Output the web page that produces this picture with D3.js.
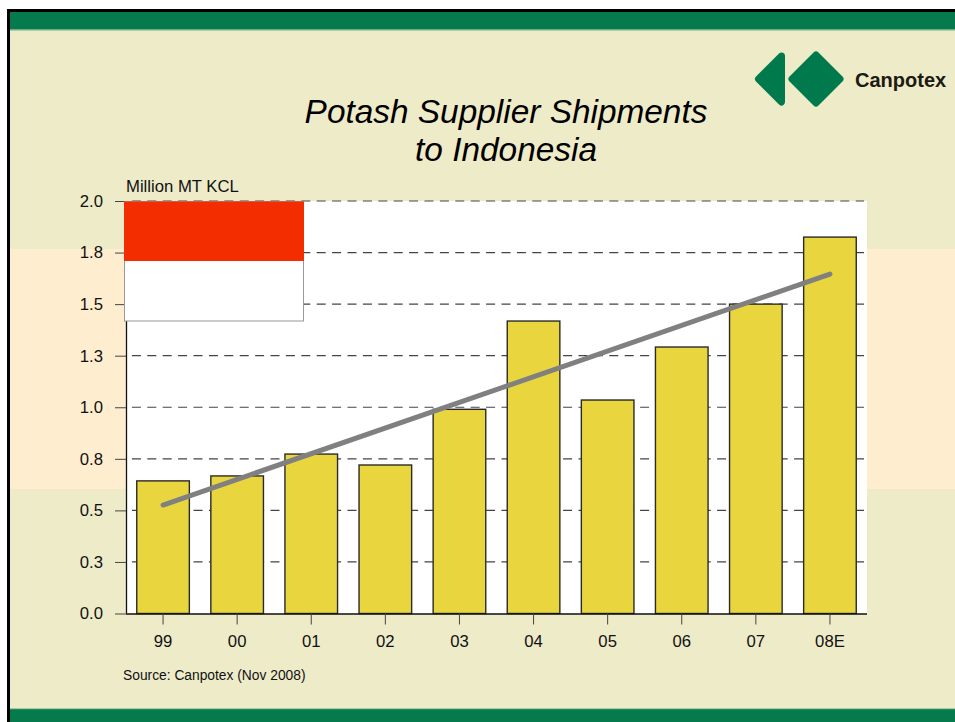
<!DOCTYPE html>
<html><head><meta charset="utf-8">
<style>html,body{margin:0;padding:0;background:#fff;overflow:hidden}svg{display:block}text{font-family:"Liberation Sans",Arial,sans-serif}</style>
<script src="https://cdnjs.cloudflare.com/ajax/libs/d3/7.8.5/d3.min.js"></script>
</head><body><script>
const categories=["99","00","01","02","03","04","05","06","07","08E"];
const shipments=[0.643,0.667,0.773,0.72,0.99,1.418,1.035,1.292,1.5,1.825];
const trendCategories=["99","08E"];
const trendValues=[0.526,1.646];
const yTickValues=[0,0.25,0.5,0.75,1,1.25,1.5,1.75,2];
const yTickLabels=["0.0","0.3","0.5","0.8","1.0","1.3","1.5","1.8","2.0"];

const svg=d3.select("body").append("svg").attr("width",955).attr("height",722);
svg.append("defs").append("filter").attr("id","soft").append("feGaussianBlur").attr("stdDeviation",0.7);
svg.append("rect").attr("x",7).attr("y",9).attr("width",948).attr("height",713).attr("fill","#000");
svg.append("rect").attr("x",10).attr("y",12).attr("width",945).attr("height",710).attr("fill","#EEEBC9");
svg.append("rect").attr("x",10).attr("y",249).attr("width",945).attr("height",240).attr("fill","#FEEDCF");
svg.append("rect").attr("x",10).attr("y",12).attr("width",945).attr("height",17).attr("fill","#047A4D");
svg.append("rect").attr("x",10).attr("y",29).attr("width",945).attr("height",1.5).attr("fill","#6FAE85");
svg.append("rect").attr("x",10).attr("y",709).attr("width",945).attr("height",13).attr("fill","#047A4D");
svg.append("rect").attr("x",10).attr("y",708).attr("width",945).attr("height",1.2).attr("fill","#A9C9A0");

const logo=svg.append("g").attr("fill","#047A4D").attr("stroke","#047A4D").attr("stroke-width",7).attr("stroke-linejoin","round").attr("filter","url(#soft)");
logo.append("path").attr("d","M781.5,56 L758.5,79 L781.5,102 Z");
logo.append("path").attr("d","M816,55 L840,79 L816,103 L792,79 Z");
svg.append("text").attr("x",855).attr("y",87).attr("font-size",20).attr("font-weight","bold").attr("fill","#1c1a12").text("Canpotex");

const title=svg.append("g").attr("font-size",33.4).attr("font-style","italic").attr("text-anchor","middle").attr("fill","#000");
title.append("text").attr("x",506).attr("y",123).text("Potash Supplier Shipments");
title.append("text").attr("x",506).attr("y",161).text("to Indonesia");

const L=126,R=867,T=201,B=613.5;
const x=d3.scaleBand().domain(categories).range([L,R]).paddingInner(0.29).paddingOuter(0.145);
const y=d3.scaleLinear().domain([0,2]).range([B,T]);

svg.append("rect").attr("x",L).attr("y",T).attr("width",R-L).attr("height",B-T).attr("fill","#fff");

svg.append("g").selectAll("line").data(yTickValues.slice(1)).join("line")
 .attr("x1",L).attr("x2",R-3).attr("y1",d=>y(d)).attr("y2",d=>y(d))
 .attr("stroke","#444").attr("stroke-width",1.2).attr("stroke-dasharray","9 6.4").attr("stroke-dashoffset",9.5);

svg.append("g").selectAll("rect").data(categories).join("rect")
 .attr("x",d=>x(d)).attr("width",x.bandwidth())
 .attr("y",(d,i)=>y(shipments[i])).attr("height",(d,i)=>B-y(shipments[i]))
 .attr("fill","#E9D53D").attr("stroke","#2a2a2a").attr("stroke-width",1.4);

svg.append("path").datum(trendCategories.map((c,i)=>[x(c)+x.bandwidth()/2,y(trendValues[i])]))
 .attr("d",d3.line()).attr("fill","none").attr("stroke","#808080").attr("stroke-width",5).attr("stroke-linecap","round");

const yAxis=d3.axisLeft(y).tickValues(yTickValues).tickFormat((d,i)=>yTickLabels[i]).tickSize(11).tickPadding(12);
const gy=svg.append("g").attr("transform",`translate(${L},0)`).call(yAxis);
const xAxis=d3.axisBottom(x).tickSize(11).tickPadding(11);
const gx=svg.append("g").attr("transform",`translate(0,${B})`).call(xAxis);
[gy,gx].forEach(g=>{g.selectAll("text").attr("font-size",16.7).attr("font-family","Liberation Sans").attr("fill","#111");
 g.selectAll("line").attr("stroke","#444");g.select(".domain").attr("stroke","#111").attr("stroke-width",1.3);});
gy.select(".domain").attr("d",`M${0.5},${T}V${B}`);
gx.select(".domain").attr("d",`M${L},0.5H${R}`);

svg.append("rect").attr("x",124.5).attr("y",201.5).attr("width",179).attr("height",119.5).attr("fill","#fff").attr("stroke","#999").attr("stroke-width",1);
svg.append("rect").attr("x",124).attr("y",201.5).attr("width",180).attr("height",59.5).attr("fill","#F32D00");

svg.append("text").attr("x",126).attr("y",192).attr("font-size",16.7).attr("fill","#111").text("Million MT KCL");
svg.append("text").attr("x",123).attr("y",680).attr("font-size",13.8).attr("fill","#111").text("Source: Canpotex (Nov 2008)");
</script></body></html>
